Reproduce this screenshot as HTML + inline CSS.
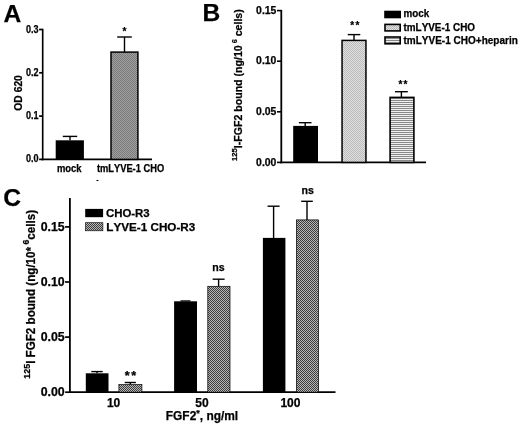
<!DOCTYPE html>
<html><head><meta charset="utf-8"><title>Figure</title>
<style>html,body{margin:0;padding:0;background:#fff;}svg{display:block;}text{font-family:"Liberation Sans", Arial, Helvetica, sans-serif;font-weight:bold;fill:#000;font-kerning:none;stroke:#000;stroke-width:0.25px;}</style>
</head><body>
<svg width="520" height="425" viewBox="0 0 520 425">
<defs>
<pattern id="pA" width="2" height="2" patternUnits="userSpaceOnUse"><rect width="2" height="2" fill="#a2a2a2"/><rect width="1" height="1" fill="#787878"/><rect x="1" y="1" width="1" height="1" fill="#787878"/></pattern>
<pattern id="pB" width="2" height="2" patternUnits="userSpaceOnUse"><rect width="2" height="2" fill="#e0e0e0"/><rect width="1" height="1" fill="#bababa"/><rect x="1" y="1" width="1" height="1" fill="#bababa"/></pattern>
<pattern id="pH" width="4" height="2" patternUnits="userSpaceOnUse"><rect width="4" height="2" fill="#888"/><rect y="1" width="4" height="1" fill="#f0f0f0"/></pattern>
<pattern id="pC" width="2" height="2" patternUnits="userSpaceOnUse"><rect width="2" height="2" fill="#b8b8b8"/><rect width="1" height="1" fill="#3c3c3c"/><rect x="1" y="1" width="1" height="1" fill="#3c3c3c"/></pattern>
</defs>
<rect width="520" height="425" fill="#fff"/>
<text x="3.5" y="21.7" font-size="24.6" text-anchor="start" >A</text>
<line x1="42.7" y1="28.8" x2="42.7" y2="160.3" stroke="#000" stroke-width="1.65"/>
<line x1="41.8" y1="159.4" x2="152" y2="159.4" stroke="#000" stroke-width="1.8"/>
<line x1="39.1" y1="159.4" x2="42.7" y2="159.4" stroke="#000" stroke-width="1.7"/>
<text x="38.6" y="162.4" font-size="10.4" text-anchor="end" textLength="12.6" lengthAdjust="spacingAndGlyphs" >0.0</text>
<line x1="39.1" y1="116.1" x2="42.7" y2="116.1" stroke="#000" stroke-width="1.7"/>
<text x="38.6" y="119.1" font-size="10.4" text-anchor="end" textLength="12.6" lengthAdjust="spacingAndGlyphs" >0.1</text>
<line x1="39.1" y1="72.8" x2="42.7" y2="72.8" stroke="#000" stroke-width="1.7"/>
<text x="38.6" y="75.8" font-size="10.4" text-anchor="end" textLength="12.6" lengthAdjust="spacingAndGlyphs" >0.2</text>
<line x1="39.1" y1="29.5" x2="42.7" y2="29.5" stroke="#000" stroke-width="1.7"/>
<text x="38.6" y="32.5" font-size="10.4" text-anchor="end" textLength="12.6" lengthAdjust="spacingAndGlyphs" >0.3</text>
<rect x="55.7" y="140.3" width="28.2" height="19.1" fill="#000"/>
<line x1="70" y1="140.3" x2="70" y2="136.4" stroke="#000" stroke-width="1.4"/>
<line x1="62.8" y1="136.4" x2="77.2" y2="136.4" stroke="#000" stroke-width="1.4"/>
<rect x="111" y="52.1" width="26.9" height="107.3" fill="url(#pA)" stroke="#000" stroke-width="1.5"/>
<line x1="124.5" y1="52.1" x2="124.5" y2="37" stroke="#000" stroke-width="1.4"/>
<line x1="117.2" y1="37" x2="131.8" y2="37" stroke="#000" stroke-width="1.4"/>
<text x="124.5" y="35.3" font-size="10" text-anchor="middle" >*</text>
<text x="56.9" y="171.8" font-size="10.4" text-anchor="start" textLength="24.6" lengthAdjust="spacingAndGlyphs" >mock</text>
<text x="96.9" y="171.8" font-size="10.4" text-anchor="start" textLength="67.3" lengthAdjust="spacingAndGlyphs" >tmLYVE-1 CHO</text>
<line x1="96.5" y1="180.5" x2="98.4" y2="180.5" stroke="#000" stroke-width="1.1"/>
<text transform="translate(22,92.9) rotate(-90)" font-size="10.3" text-anchor="middle">OD 620</text>
<text x="202.5" y="21.4" font-size="24.6" text-anchor="start" >B</text>
<line x1="281.3" y1="9.9" x2="281.3" y2="163.3" stroke="#000" stroke-width="1.8"/>
<line x1="280.4" y1="162.4" x2="426" y2="162.4" stroke="#000" stroke-width="1.8"/>
<line x1="277" y1="162.4" x2="281.3" y2="162.4" stroke="#000" stroke-width="1.6"/>
<text x="276.4" y="165.6" font-size="10.8" text-anchor="end" textLength="20.3" lengthAdjust="spacingAndGlyphs" >0.00</text>
<line x1="277" y1="111.8" x2="281.3" y2="111.8" stroke="#000" stroke-width="1.6"/>
<text x="276.4" y="115" font-size="10.8" text-anchor="end" textLength="20.3" lengthAdjust="spacingAndGlyphs" >0.05</text>
<line x1="277" y1="61.2" x2="281.3" y2="61.2" stroke="#000" stroke-width="1.6"/>
<text x="276.4" y="64.4" font-size="10.8" text-anchor="end" textLength="20.3" lengthAdjust="spacingAndGlyphs" >0.10</text>
<line x1="277" y1="10.6" x2="281.3" y2="10.6" stroke="#000" stroke-width="1.6"/>
<text x="276.4" y="13.8" font-size="10.8" text-anchor="end" textLength="20.3" lengthAdjust="spacingAndGlyphs" >0.15</text>
<rect x="293.2" y="125.9" width="24.8" height="36.5" fill="#000"/>
<line x1="305.2" y1="125.9" x2="305.2" y2="122.7" stroke="#000" stroke-width="1.4"/>
<line x1="298.9" y1="122.7" x2="311.5" y2="122.7" stroke="#000" stroke-width="1.4"/>
<rect x="342.05" y="40.4" width="23.9" height="122" fill="url(#pB)" stroke="#000" stroke-width="1.5"/>
<line x1="354" y1="40.5" x2="354" y2="34.6" stroke="#000" stroke-width="1.4"/>
<line x1="347.7" y1="34.6" x2="360.3" y2="34.6" stroke="#000" stroke-width="1.4"/>
<text x="355.4" y="28.6" font-size="10" text-anchor="middle" letter-spacing="1.3">**</text>
<rect x="390.1" y="97.4" width="23.8" height="65" fill="url(#pH)" stroke="#000" stroke-width="1.6"/>
<line x1="401.4" y1="97.4" x2="401.4" y2="91.7" stroke="#000" stroke-width="1.4"/>
<line x1="395" y1="91.7" x2="407.8" y2="91.7" stroke="#000" stroke-width="1.4"/>
<text x="403.6" y="88" font-size="10" text-anchor="middle" letter-spacing="1.3">**</text>
<rect x="384.2" y="10.7" width="16.8" height="7.6" fill="#000"/>
<rect x="385" y="24.4" width="15.2" height="6.5" fill="url(#pB)" stroke="#000" stroke-width="1.6"/>
<rect x="385" y="37" width="15.2" height="6.8" fill="url(#pH)" stroke="#000" stroke-width="1.6"/>
<text x="403.5" y="17.3" font-size="10.4" text-anchor="start" textLength="25.7" lengthAdjust="spacingAndGlyphs" >mock</text>
<text x="403.5" y="30.6" font-size="10.3" text-anchor="start" textLength="71.5" lengthAdjust="spacingAndGlyphs" >tmLYVE-1 CHO</text>
<text x="403.5" y="43.7" font-size="10.3" text-anchor="start" textLength="114.3" lengthAdjust="spacingAndGlyphs" >tmLYVE-1 CHO+heparin</text>
<text transform="translate(242.4,161) rotate(-90)" font-size="10.5" textLength="151.8" lengthAdjust="spacingAndGlyphs"><tspan font-size="7.6" dy="-5.4">125</tspan><tspan dy="5.4">I-FGF2 bound (ng/10</tspan><tspan font-size="7.2" dy="-5.4"> 6</tspan><tspan dy="5.4"> cells)</tspan></text>
<text x="3.3" y="206.2" font-size="24.6" text-anchor="start" >C</text>
<line x1="69.9" y1="198" x2="69.9" y2="393.1" stroke="#000" stroke-width="1.8"/>
<line x1="69" y1="392.2" x2="335.5" y2="392.2" stroke="#000" stroke-width="1.8"/>
<line x1="65.1" y1="392.2" x2="69.9" y2="392.2" stroke="#000" stroke-width="1.7"/>
<text x="64.7" y="395.8" font-size="12" text-anchor="end" textLength="24" lengthAdjust="spacingAndGlyphs" >0.00</text>
<line x1="65.1" y1="337.1" x2="69.9" y2="337.1" stroke="#000" stroke-width="1.7"/>
<text x="64.7" y="340.7" font-size="12" text-anchor="end" textLength="24" lengthAdjust="spacingAndGlyphs" >0.05</text>
<line x1="65.1" y1="282" x2="69.9" y2="282" stroke="#000" stroke-width="1.7"/>
<text x="64.7" y="285.6" font-size="12" text-anchor="end" textLength="24" lengthAdjust="spacingAndGlyphs" >0.10</text>
<line x1="65.1" y1="226.9" x2="69.9" y2="226.9" stroke="#000" stroke-width="1.7"/>
<text x="64.7" y="230.5" font-size="12" text-anchor="end" textLength="24" lengthAdjust="spacingAndGlyphs" >0.15</text>
<rect x="85.8" y="373.3" width="22.7" height="18.9" fill="#000"/>
<line x1="97" y1="373.3" x2="97" y2="371.6" stroke="#000" stroke-width="1.4"/>
<line x1="91.3" y1="371.6" x2="102.7" y2="371.6" stroke="#000" stroke-width="1.4"/>
<rect x="118.9" y="384.6" width="23" height="7.6" fill="url(#pC)" stroke="#000" stroke-width="0.7"/>
<line x1="130.3" y1="384.6" x2="130.3" y2="382.5" stroke="#000" stroke-width="1.4"/>
<line x1="124.7" y1="382.5" x2="135.9" y2="382.5" stroke="#000" stroke-width="1.4"/>
<text x="131.2" y="379.9" font-size="12.6" text-anchor="middle" letter-spacing="1.6">**</text>
<rect x="174.1" y="301.3" width="22.9" height="90.9" fill="#000"/>
<line x1="180.5" y1="300.9" x2="190.5" y2="300.9" stroke="#000" stroke-width="1.2"/>
<rect x="207.8" y="286.3" width="22.2" height="105.9" fill="url(#pC)" stroke="#000" stroke-width="0.7"/>
<line x1="218.6" y1="286.3" x2="218.6" y2="279.2" stroke="#000" stroke-width="1.4"/>
<line x1="212.6" y1="279.2" x2="224.6" y2="279.2" stroke="#000" stroke-width="1.4"/>
<text x="218.4" y="270.5" font-size="10.6" text-anchor="middle" >ns</text>
<rect x="262.9" y="237.9" width="22.5" height="154.3" fill="#000"/>
<line x1="273.6" y1="238.3" x2="273.6" y2="206.2" stroke="#000" stroke-width="1.4"/>
<line x1="267.6" y1="206.2" x2="279.6" y2="206.2" stroke="#000" stroke-width="1.4"/>
<rect x="296.4" y="219.9" width="22.2" height="172.3" fill="url(#pC)" stroke="#000" stroke-width="0.7"/>
<line x1="307" y1="219.9" x2="307" y2="201.3" stroke="#000" stroke-width="1.4"/>
<line x1="301.2" y1="201.3" x2="312.8" y2="201.3" stroke="#000" stroke-width="1.4"/>
<text x="307.6" y="193.6" font-size="10.6" text-anchor="middle" >ns</text>
<text x="113.6" y="406.8" font-size="12" text-anchor="middle" >10</text>
<text x="202" y="406.8" font-size="12" text-anchor="middle" >50</text>
<text x="290.4" y="406.8" font-size="12" text-anchor="middle" >100</text>
<text x="165.8" y="419.8" font-size="12" textLength="72.4" lengthAdjust="spacingAndGlyphs">FGF2<tspan font-size="9" dy="-3.5">*</tspan><tspan dy="3.5">, ng/ml</tspan></text>
<rect x="85.2" y="208.9" width="17.9" height="8.3" fill="#000"/>
<rect x="85.5" y="222.7" width="17.4" height="8.1" fill="url(#pC)" stroke="#000" stroke-width="0.6"/>
<text x="105.9" y="216.7" font-size="11.6" text-anchor="start" textLength="43.8" lengthAdjust="spacingAndGlyphs" >CHO-R3</text>
<text x="106.3" y="230.7" font-size="11.6" text-anchor="start" textLength="89" lengthAdjust="spacingAndGlyphs" >LYVE-1 CHO-R3</text>
<text transform="translate(35.1,378.7) rotate(-90)" font-size="12" textLength="168.8" lengthAdjust="spacingAndGlyphs"><tspan font-size="9.2" dy="-5.6">125</tspan><tspan dy="5.6">I FGF2 bound (ng/10*</tspan><tspan font-size="9" dy="-6.6"> 6</tspan><tspan dy="6.6">cells)</tspan></text>
</svg>
</body></html>
